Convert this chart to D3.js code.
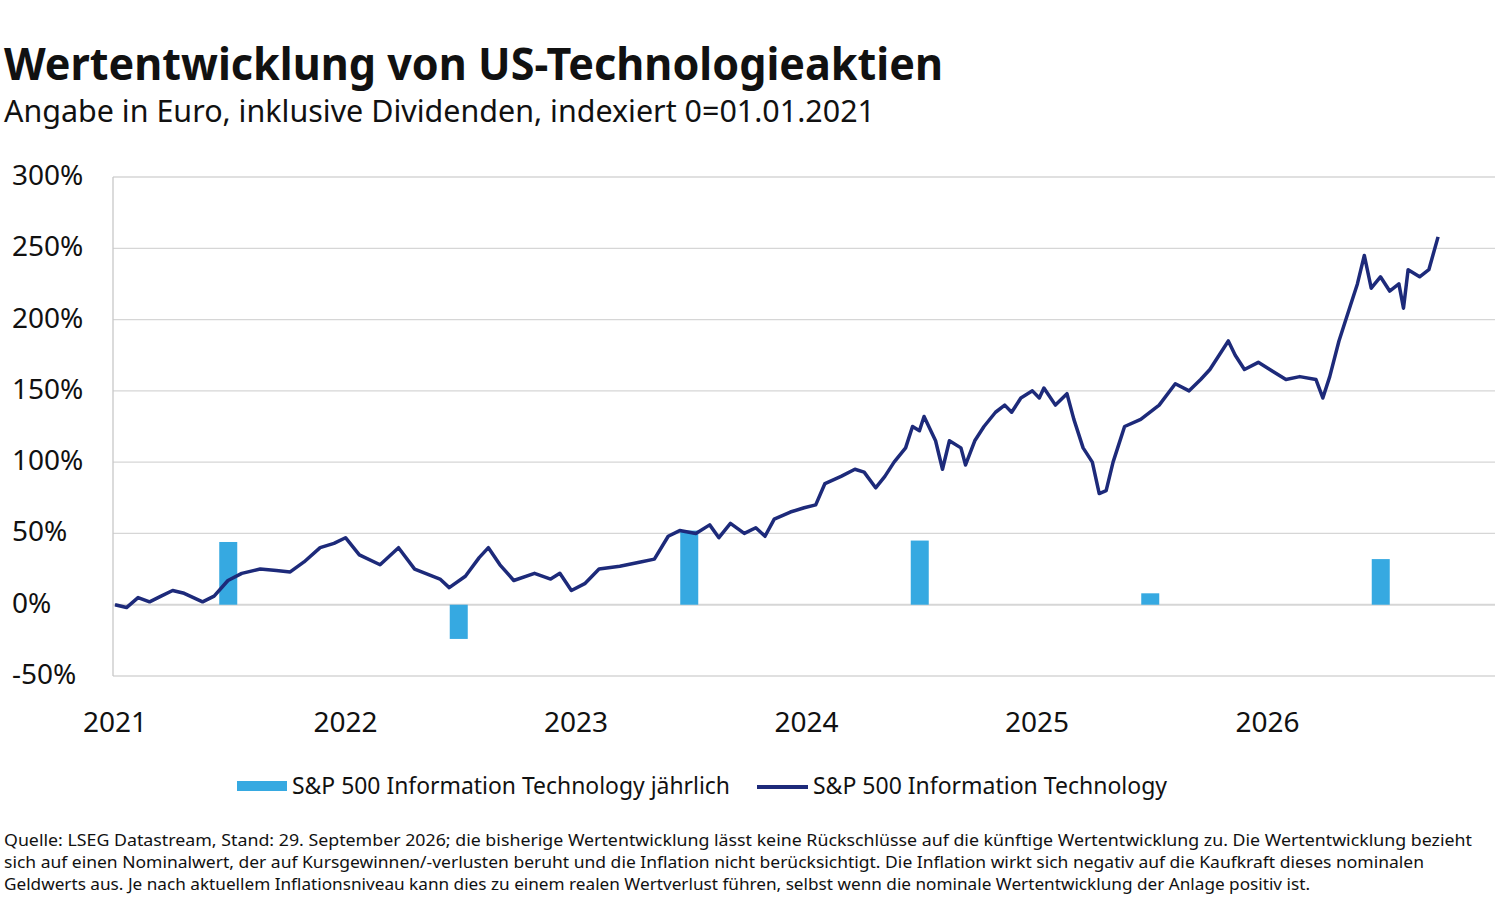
<!DOCTYPE html>
<html lang="de">
<head>
<meta charset="UTF-8">
<title>Wertentwicklung von US-Technologieaktien</title>
<style>
    body { margin: 0; background: #fff; font-family: "Noto Sans", Arial, sans-serif; }
    svg text { fill: #111; }
</style>
</head>
<body>
<svg id="chart" width="1500" height="898"></svg>
<script src="https://d3js.org/d3.v7.min.js"></script>
<script>
// Zeit als Jahre seit 01.01.2021
const lineT = [0,0.05,0.1,0.15,0.2,0.25,0.3,0.38,0.43,0.49,0.55,0.63,0.7,0.76,0.82,0.89,0.95,1.0,
  1.06,1.15,1.23,1.30,1.41,1.45,1.52,1.58,1.62,1.67,1.73,1.82,1.89,1.93,1.98,2.04,2.10,2.19,2.28,2.34,
  2.40,2.45,2.52,2.58,2.62,2.67,2.73,2.78,2.82,2.86,2.93,2.99,3.04,3.08,3.15,3.21,3.25,3.30,3.34,3.38,
  3.43,3.46,3.49,3.51,3.56,3.59,3.62,3.67,3.69,3.73,3.77,3.82,3.86,3.89,3.93,3.98,4.01,4.03,4.08,4.13,
  4.16,4.20,4.24,4.27,4.30,4.33,4.35,4.38,4.45,4.53,4.60,4.66,4.71,4.75,4.79,4.83,4.86,4.90,4.96,5.01,
  5.08,5.14,5.21,5.24,5.27,5.31,5.36,5.39,5.42,5.45,5.49,5.53,5.57,5.59,5.61,5.66,5.70,5.74];
const lineV = [0,-2,5,2,6,10,8,2,6,17,22,25,24,23,30,40,43,47,
  35,28,40,25,18,12,20,33,40,28,17,22,18,22,10,15,25,27,30,32,
  48,52,50,56,47,57,50,54,48,60,65,68,70,85,90,95,93,82,90,100,
  110,125,122,132,115,95,115,110,98,115,125,135,140,135,145,150,145,152,140,148,
  130,110,100,78,80,100,110,125,130,140,155,150,158,165,175,185,175,165,170,165,
  158,160,158,145,160,185,210,225,245,222,230,220,225,208,235,230,235,258];
const barT = [0.5,1.5,2.5,3.5,4.5,5.5];
const barV = [44,-24,52,45,8,32];
const yTicks = [-50,0,50,100,150,200,250,300];
const xTicks = [0,1,2,3,4,5];
const xLabels = ["2021","2022","2023","2024","2025","2026"];

const svg = d3.select("#chart");
const x = d3.scaleLinear().domain([0, 6]).range([115, 1498]);
const y = d3.scaleLinear().domain([-50, 300]).range([676, 177]);

svg.append("text").attr("x", 4).attr("y", 80).attr("font-size", 45).attr("font-weight", "bold")
  .attr("textLength", 939).attr("lengthAdjust", "spacingAndGlyphs")
  .text("Wertentwicklung von US-Technologieaktien");
svg.append("text").attr("x", 4).attr("y", 122).attr("font-size", 30)
  .attr("textLength", 871).attr("lengthAdjust", "spacingAndGlyphs")
  .text("Angabe in Euro, inklusive Dividenden, indexiert 0=01.01.2021");

// Gitter
svg.append("g").selectAll("line").data(yTicks).join("line")
  .attr("x1", 113).attr("x2", 1495)
  .attr("y1", d => y(d)).attr("y2", d => y(d))
  .attr("stroke", "#d6d6d6").attr("stroke-width", d => d === 0 ? 2 : 1.3);
svg.append("line").attr("x1", 113).attr("x2", 113).attr("y1", y(300)).attr("y2", y(-50))
  .attr("stroke", "#c8c8c8").attr("stroke-width", 1.3);

svg.append("g").selectAll("text").data(yTicks).join("text")
  .attr("x", 12).attr("y", d => y(d) + 8).attr("font-size", 28)
  .text(d => d + "%");
svg.append("g").selectAll("text").data(xTicks).join("text")
  .attr("x", d => x(d)).attr("y", 732).attr("font-size", 28).attr("text-anchor", "middle")
  .text((d, i) => xLabels[i]);

// Balken
svg.append("g").selectAll("rect").data(barT).join("rect")
  .attr("x", d => x(d) - 11).attr("width", 18)
  .attr("y", (d, i) => y(Math.max(0, barV[i])))
  .attr("height", (d, i) => Math.abs(y(barV[i]) - y(0)))
  .attr("fill", "#36a9e1");

// Linie
const line = d3.line().x(d => x(d[0])).y(d => y(d[1]));
svg.append("path").datum(lineT.map((t, i) => [t, lineV[i]]))
  .attr("d", line).attr("fill", "none").attr("stroke", "#1d2a7a")
  .attr("stroke-width", 3.5).attr("stroke-linejoin", "round");

// Legende
svg.append("rect").attr("x", 237).attr("y", 781).attr("width", 50).attr("height", 10).attr("fill", "#36a9e1");
svg.append("text").attr("x", 292).attr("y", 794).attr("font-size", 24)
  .attr("textLength", 438).attr("lengthAdjust", "spacingAndGlyphs")
  .text("S&P 500 Information Technology jährlich");
svg.append("line").attr("x1", 757).attr("x2", 808).attr("y1", 787).attr("y2", 787)
  .attr("stroke", "#1d2a7a").attr("stroke-width", 4);
svg.append("text").attr("x", 813).attr("y", 794).attr("font-size", 24)
  .attr("textLength", 354).attr("lengthAdjust", "spacingAndGlyphs")
  .text("S&P 500 Information Technology");

const notes = [
  "Quelle: LSEG Datastream, Stand: 29. September 2026; die bisherige Wertentwicklung lässt keine Rückschlüsse auf die künftige Wertentwicklung zu. Die Wertentwicklung bezieht",
  "sich auf einen Nominalwert, der auf Kursgewinnen/-verlusten beruht und die Inflation nicht berücksichtigt. Die Inflation wirkt sich negativ auf die Kaufkraft dieses nominalen",
  "Geldwerts aus. Je nach aktuellem Inflationsniveau kann dies zu einem realen Wertverlust führen, selbst wenn die nominale Wertentwicklung der Anlage positiv ist."
];
const noteLen = [1468, 1420, 1306];
svg.append("g").selectAll("text").data(notes).join("text")
  .attr("x", 4).attr("y", (d, i) => 846 + i * 22).attr("font-size", 16.5)
  .attr("textLength", (d, i) => noteLen[i]).attr("lengthAdjust", "spacingAndGlyphs")
  .text(d => d);
</script>
</body>
</html>
